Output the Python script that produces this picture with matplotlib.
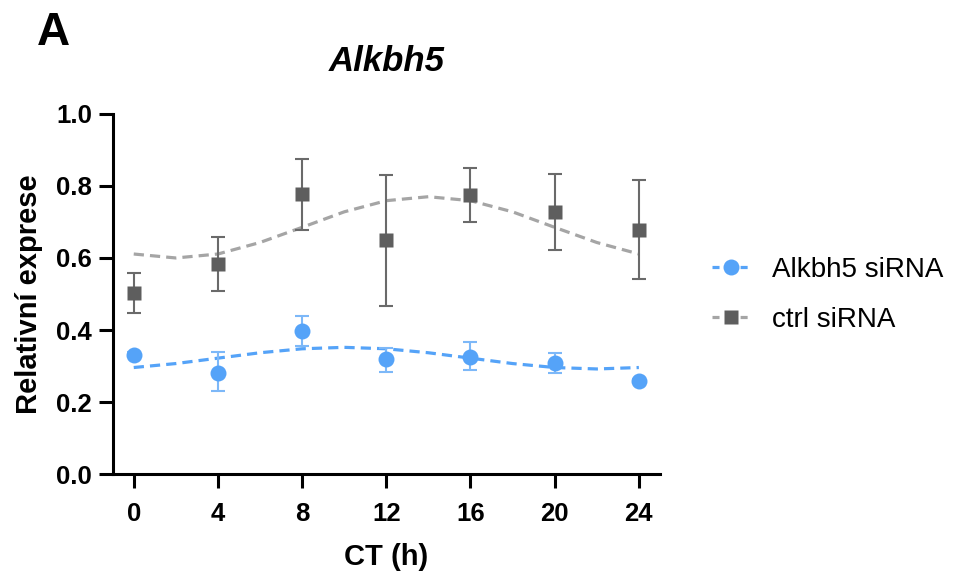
"""
Alkbh5 - relativní exprese během cirkadiánního cyklu (CT 0-24 h)
"""

import matplotlib.pyplot as plt

plt.rcParams['font.family'] = ['Liberation Sans', 'DejaVu Sans']

# Data
ct = [0, 4, 8, 12, 16, 20, 24]

ctrl_mean = [0.504, 0.583, 0.777, 0.649, 0.774, 0.728, 0.679]
ctrl_lo = [0.447, 0.507, 0.678, 0.468, 0.699, 0.623, 0.543]
ctrl_hi = [0.559, 0.658, 0.875, 0.831, 0.850, 0.834, 0.815]

kd_mean = [0.332, 0.282, 0.398, 0.319, 0.326, 0.309, 0.258]
kd_lo = [0.325, 0.230, 0.356, 0.284, 0.289, 0.280, 0.252]
kd_hi = [0.339, 0.338, 0.440, 0.349, 0.367, 0.337, 0.264]

# Proložené křivky (odečteno po 2 h)
fit_t = [0, 2, 4, 6, 8, 10, 12, 14, 16, 18, 20, 22, 24]
ctrl_fit = [0.611, 0.600, 0.611, 0.643, 0.685, 0.728, 0.759,
            0.770, 0.759, 0.728, 0.685, 0.643, 0.611]
kd_fit = [0.296, 0.307, 0.322, 0.337, 0.348, 0.352, 0.348,
          0.337, 0.322, 0.307, 0.296, 0.292, 0.296]

blue = '#55A3F8'
blue_err = '#7DB8F8'
dark = '#5E5E5E'
light = '#A5A5A5'

fig = plt.figure(figsize=(9.55, 5.72), dpi=100)
ax = fig.add_axes([0.118, 0.171, 0.573, 0.630])

# Alkbh5 siRNA
ax.plot(fit_t, kd_fit, color=blue, lw=2.3, dashes=(3.2, 1.9), zorder=2)
ax.errorbar(ct, kd_mean,
            yerr=[[m - l for m, l in zip(kd_mean, kd_lo)],
                  [h - m for m, h in zip(kd_mean, kd_hi)]],
            fmt='none', ecolor=blue_err, elinewidth=1.5, capsize=5,
            capthick=1.5, zorder=3)
ax.plot(ct, kd_mean, 'o', color=blue, ms=11.5, mec='none', zorder=4)

# ctrl siRNA
ax.plot(fit_t, ctrl_fit, color=light, lw=2.3, dashes=(3.2, 1.9), zorder=2)
ax.errorbar(ct, ctrl_mean,
            yerr=[[m - l for m, l in zip(ctrl_mean, ctrl_lo)],
                  [h - m for m, h in zip(ctrl_mean, ctrl_hi)]],
            fmt='none', ecolor='#6A6A6A', elinewidth=1.5, capsize=5,
            capthick=1.5, zorder=3)
ax.plot(ct, ctrl_mean, 's', color=dark, ms=10.5, mec='none', zorder=4)

# Legenda
h1, = ax.plot([], [], color=blue, lw=2.3, dashes=(2.2, 2.2), marker='o',
              ms=11.5, mec='none', label='Alkbh5 siRNA')
h2, = ax.plot([], [], color=light, lw=2.3, dashes=(2.2, 2.2), marker='s',
              ms=10.5, mfc=dark, mec='none', label='ctrl siRNA')
fig.legend(handles=[h1, h2], loc='center left', bbox_to_anchor=(0.7455, 0.484),
           frameon=False, fontsize=20, handlelength=1.37, labelspacing=0.86,
           handletextpad=0.8, borderpad=0, borderaxespad=0)

# Osy
ax.set_xlim(-1, 25)
ax.set_ylim(0, 1.0)
ax.set_xticks(ct)
ax.set_yticks([0.0, 0.2, 0.4, 0.6, 0.8, 1.0])
ax.set_yticklabels(['0.0', '0.2', '0.4', '0.6', '0.8', '1.0'])
for s in ['top', 'right']:
    ax.spines[s].set_visible(False)
for s in ['left', 'bottom']:
    ax.spines[s].set_linewidth(2.2)
ax.tick_params(width=2.2, length=10, labelsize=18.5)
ax.tick_params(axis='x', pad=10)
ax.tick_params(axis='y', pad=5)
for lab in ax.get_xticklabels() + ax.get_yticklabels():
    lab.set_fontweight('bold')

ax.set_xlabel('CT (h)', fontsize=21, fontweight='bold', labelpad=12)
ax.set_ylabel('Relativní exprese', fontsize=21, fontweight='bold', labelpad=9)
ax.set_title('Alkbh5', fontsize=25, fontweight='bold', style='italic', pad=31)
fig.text(0.039, 0.942, 'A', fontsize=33, fontweight='bold', va='center')

plt.savefig('out.png', dpi=100, facecolor='white')
plt.close()
